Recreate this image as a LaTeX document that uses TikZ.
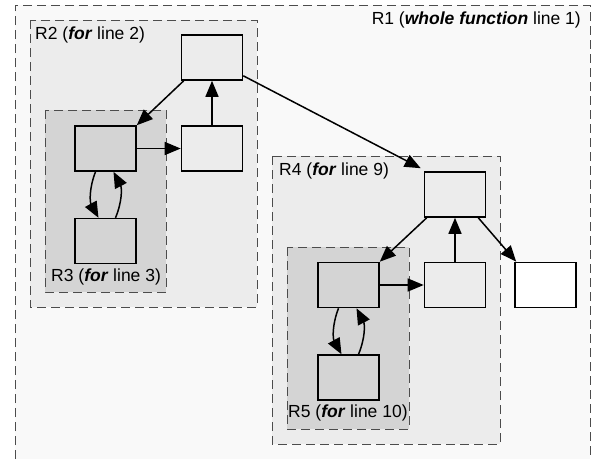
\documentclass[tikz,border=0pt]{standalone}
\usepackage{fontspec}
\setmainfont{Liberation Sans}
\usetikzlibrary{positioning,arrows.meta}

\definecolor{RegionOuter}{HTML}{F9F9F9}
\definecolor{RegionMid}{HTML}{ECECEC}
\definecolor{RegionInner}{HTML}{D4D4D4}

\tikzset{
	region/.style={draw=black!70, dash pattern=on 9pt off 5pt, line width=1pt},
	regionlabel/.style={inner sep=0pt, font=\fontsize{17.5}{20}\selectfont},
	block/.style={draw, line width=1.6pt, minimum width=61pt, minimum height=45pt, inner sep=0pt},
	flow/.style={-{Triangle[length=16pt,width=13pt]}, line width=1.5pt},
}

\newcommand{\kw}[1]{\textbf{\textit{#1}}}

\begin{document}
\begin{tikzpicture}[x=1pt,y=-1pt]
			\useasboundingbox (0,0) rectangle (591,459);
			\fill[white] (0,0) rectangle (591,459);
			\fill[RegionOuter] (15,5) rectangle (590,459);
			\draw[region] (15,459) -- (15,5) -- (590,5) -- (590,459);
			\draw[region, fill=RegionMid] (30,20) rectangle (257,307);
			\draw[region, fill=RegionInner] (45,110) rectangle (166,292);
			\draw[region, fill=RegionMid] (272,156) rectangle (500,444);
			\draw[region, fill=RegionInner] (287,247) rectangle (409,429);
			\node[regionlabel, anchor=east] (labR1) at (581,20) {R1 (\kw{whole function} line 1)};
			\node[regionlabel, anchor=west] (labR2) at (35,35) {R2 (\kw{for} line 2)};
			\node[regionlabel, anchor=west] (labR3) at (51,277) {R3 (\kw{for} line 3)};
			\node[regionlabel, anchor=west] (labR4) at (279,171) {R4 (\kw{for} line 9)};
			\node[regionlabel, anchor=west] (labR5) at (288,413) {R5 (\kw{for} line 10)};

			\node[block, fill=RegionMid] (headA) at (212,57.5) {};
			\node[block, fill=RegionInner] (bodyA) at (105.5,148.5) {};
			\node[block, fill=RegionInner, below=46pt of bodyA] (innerA) {};
			\node[block, fill=RegionMid] (exitA) at (212,148.5) {};

			\node[block, fill=RegionMid] (headB) at (455,194.5) {};
			\node[block, fill=RegionInner] (bodyB) at (348.5,285) {};
			\node[block, fill=RegionInner, below=46pt of bodyB] (innerB) {};
			\node[block, fill=RegionMid] (exitB) at (455,285) {};
			\node[block, fill=white] (tail) at (545.5,285) {};

			\draw[flow] (headA.south west) ++(3,0) -- (bodyA.north east);
			\draw[flow] (exitA.north) -- (headA.south);
			\draw[flow] (bodyA.east) -- (exitA.west);
			\draw[flow] ([xshift=-10pt]bodyA.south) to[bend right=25] ([xshift=-7pt]innerA.north);
			\draw[flow] ([xshift=10pt]innerA.north) to[bend right=25] ([xshift=8pt]bodyA.south);
			\draw[flow] ([yshift=5pt]headA.south east) -- ([xshift=-3pt,yshift=3pt]headB.north west);

			\draw[flow] (headB.south west) ++(3,0) -- (bodyB.north east);
			\draw[flow] (exitB.north) -- (headB.south);
			\draw[flow] (bodyB.east) -- (exitB.west);
			\draw[flow] ([xshift=-10pt]bodyB.south) to[bend right=25] ([xshift=-7pt]innerB.north);
			\draw[flow] ([xshift=10pt]innerB.north) to[bend right=25] ([xshift=8pt]bodyB.south);
			\draw[flow] ([xshift=-8pt]headB.south east) -- ([xshift=2pt]tail.north west);
		\end{tikzpicture}
\end{document}
